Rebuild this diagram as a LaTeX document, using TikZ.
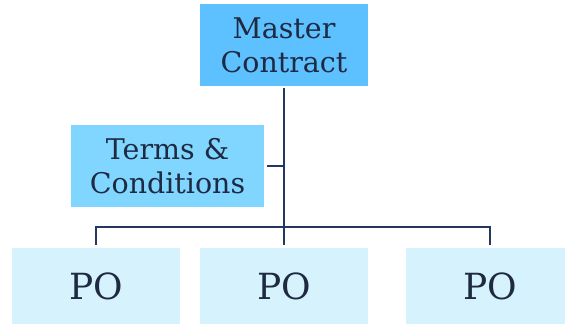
\documentclass[tikz,border=0pt]{standalone}
\usepackage{fontspec}
\setmainfont{DejaVu Serif}
\usepackage{tikz}
\usetikzlibrary{positioning, calc}
\definecolor{masterblue}{RGB}{93,192,255}
\definecolor{termsblue}{RGB}{128,214,255}
\definecolor{poblue}{RGB}{214,242,252}
\definecolor{linknavy}{RGB}{35,56,97}
\definecolor{textnavy}{RGB}{30,42,66}

\begin{document}
\begin{tikzpicture}[
  x=1pt, y=-1pt,
  box/.style={rectangle, inner sep=0pt, text=textnavy, align=center},
  master/.style={box, fill=masterblue, minimum width=168pt, minimum height=82pt, font=\fontsize{28.5}{34}\selectfont},
  terms/.style={box, fill=termsblue, minimum width=193pt, minimum height=82pt, font=\fontsize{28.5}{34}\selectfont},
  po/.style={box, fill=poblue, minimum width=168pt, minimum height=76pt, font=\fontsize{36}{40}\selectfont},
  link/.style={line width=2.8pt, draw=linknavy}
]
  \useasboundingbox (0,0) rectangle (565,324);

  \node[master] (mc) at (284,45) {Master\\Contract};
  \node[terms] (tc) at (167.5,166) {Terms \&\\Conditions};

  \foreach \i/\x in {1/96,2/284,3/490} {
    \node[po] (po\i) at (\x,286) {PO};
  }

  % bus and drops
  \coordinate (bus) at (284,227);
  \coordinate (busl) at (96,227);
  \coordinate (busr) at (490,227);
  \draw[link] ($(mc.south)+(0,2)$) -- (bus) -- ($(po2.north)+(0,-3)$);
  \draw[link] ($(po1.north)+(0,-3)$) -- (busl) -- (busr) -- ($(po3.north)+(0,-3)$);
  \draw[link] ($(tc.east)+(3,0)$) -- (tc.east -| bus);
\end{tikzpicture}
\end{document}
